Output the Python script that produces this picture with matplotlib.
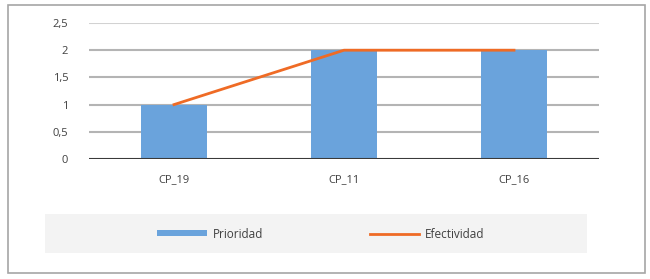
import matplotlib.pyplot as plt
from matplotlib.patches import Rectangle
from matplotlib.ticker import FuncFormatter

# data
categorias = ['CP_19', 'CP_11', 'CP_16']
prioridad = [1, 2, 2]
efectividad = [1, 2, 2]
yticks = [0, 0.5, 1, 1.5, 2, 2.5]

plt.rcParams['font.family'] = ['Open Sans', 'DejaVu Sans']

fig = plt.figure(figsize=(6.5, 2.79), dpi=100)

# outer frame of the chart
fig.patches.append(Rectangle((8 / 650, 1 - 273 / 279), 637 / 650, 268 / 279,
                             transform=fig.transFigure, facecolor='none',
                             edgecolor='#a6a6a6', lw=1.2, zorder=-1))
# legend area
fig.patches.append(Rectangle((45 / 650, 1 - 253 / 279), 542 / 650, 39 / 279,
                             transform=fig.transFigure, facecolor='#f3f3f3',
                             edgecolor='none', zorder=-1))

ax = fig.add_axes([89 / 650, 1 - 159 / 279, 510 / 650, 136 / 279])
ax.set_facecolor('none')
ax.set_zorder(2)

x = range(len(categorias))
ax.bar(x, prioridad, width=0.39, color='#6aa3dc', zorder=3, label='Prioridad')
ax.plot(x, efectividad, color='#ef6b25', lw=2, zorder=4, label='Efectividad')

ax.set_xlim(-0.5, 2.5)
ax.set_ylim(0, 2.5)
ax.set_yticks(yticks)
ax.yaxis.set_major_formatter(FuncFormatter(lambda v, p: f'{v:g}'.replace('.', ',')))
ax.set_xticks(list(x))
ax.set_xticklabels(categorias)

for v in yticks[1:]:
    ax.axhline(v, color='#d2d2d2' if v == 2.5 else '#b4b4b4', lw=1.5, zorder=1)
ax.axhline(0, color='#3a3a3a', lw=1.5, zorder=5)

for s in ax.spines.values():
    s.set_visible(False)
ax.tick_params(length=0, labelsize=8, colors='#404040')
ax.tick_params(axis='y', pad=15)
ax.tick_params(axis='x', pad=11)

h, l = ax.get_legend_handles_labels()
leg = fig.legend(h[::-1], l[::-1], loc='center', bbox_to_anchor=(321 / 650, 1 - 234 / 279),
                 ncol=2, frameon=False, fontsize=8.5, handlelength=4.2, handleheight=0.35,
                 handletextpad=0.5, columnspacing=9.0, labelcolor='#404040')
leg.set_zorder(3)

fig.savefig('out.png', dpi=100)
